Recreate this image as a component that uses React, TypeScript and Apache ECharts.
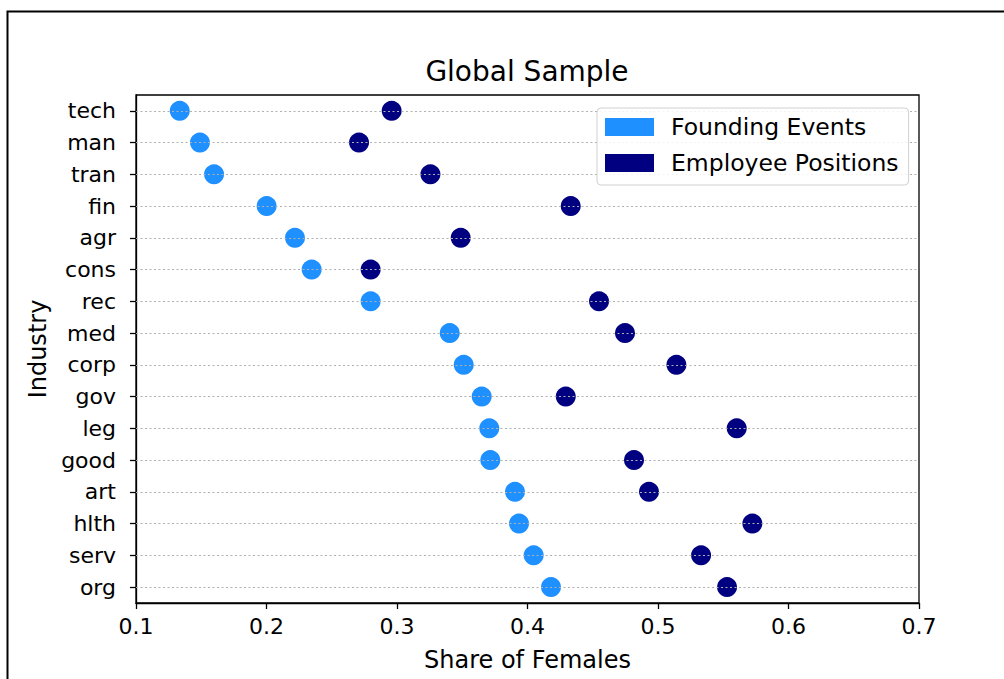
import React, { useEffect, useRef } from "react";
import * as echarts from "echarts";

const categories = ["tech", "man", "tran", "fin", "agr", "cons", "rec", "med", "corp", "gov", "leg", "good", "art", "hlth", "serv", "org"];
const foundingEvents = [0.1335, 0.149, 0.1598, 0.2001, 0.2218, 0.2346, 0.2798, 0.3404, 0.3511, 0.3649, 0.3707, 0.3715, 0.3904, 0.3935, 0.4047, 0.418];
const employeePositions = [0.2959, 0.2709, 0.3256, 0.4331, 0.3488, 0.2798, 0.4548, 0.4747, 0.5141, 0.4293, 0.5603, 0.4816, 0.4931, 0.5723, 0.533, 0.5529];
const xTicks = { min: 0.1, max: 0.7, interval: 0.1 };

const FONT = "'DejaVu Sans', sans-serif";

export default function App() {
  const ref = useRef<HTMLDivElement>(null);
  useEffect(() => {
    if (!ref.current) return;
    const chart = echarts.init(ref.current, null, { renderer: "svg" });
    chart.setOption({
      animation: false,
      backgroundColor: "#fff",
      title: {
        text: "Global Sample",
        left: 522,
        textAlign: "center",
        top: 52,
        textStyle: { fontFamily: FONT, fontSize: 28, fontWeight: "normal", color: "#000" },
      },
      legend: {
        orient: "vertical",
        left: 597,
        top: 108,
        itemWidth: 49,
        itemHeight: 18,
        itemGap: 12,
        padding: [7, 10, 10, 8],
        icon: "rect",
        borderColor: "#d0d0d0",
        borderWidth: 1,
        borderRadius: 4,
        backgroundColor: "rgba(255,255,255,0.85)",
        z: 20,
        textStyle: { fontFamily: FONT, fontSize: 23.5, color: "#000", padding: [0, 0, 0, 12] },
        data: ["Founding Events", "Employee Positions"],
      },
      grid: {
        left: 136,
        top: 95,
        right: 85,
        bottom: 76,
        show: true,
        borderColor: "#000",
        borderWidth: 1.3,
        backgroundColor: "transparent",
      },
      xAxis: {
        type: "value",
        min: xTicks.min,
        max: xTicks.max,
        interval: xTicks.interval,
        name: "Share of Females",
        nameLocation: "middle",
        nameGap: 45,
        nameTextStyle: { fontFamily: FONT, fontSize: 24, color: "#000" },
        axisLine: { show: true, lineStyle: { color: "#000", width: 1.3 } },
        axisTick: { show: true, length: 6, lineStyle: { color: "#000", width: 1.3 } },
        axisLabel: {
          fontFamily: FONT,
          fontSize: 22,
          color: "#000",
          margin: 12,
          formatter: (v: number) => v.toFixed(1),
        },
        splitLine: { show: false },
      },
      yAxis: {
        type: "category",
        data: categories,
        inverse: true,
        boundaryGap: true,
        name: "Industry",
        nameLocation: "middle",
        nameGap: 84,
        nameRotate: 90,
        nameTextStyle: { fontFamily: FONT, fontSize: 24, color: "#000" },
        axisLine: { show: true, lineStyle: { color: "#000", width: 1.3 } },
        axisTick: { show: true, alignWithLabel: true, length: 6, lineStyle: { color: "#000", width: 1.3 } },
        axisLabel: { fontFamily: FONT, fontSize: 22, color: "#000", margin: 20 },
        splitLine: { show: false },
      },
      series: [
        {
          name: "Founding Events",
          type: "scatter",
          symbolSize: 20,
          itemStyle: { color: "#1E90FF", opacity: 1 },
          data: foundingEvents.map((v, i) => [v, categories[i]]),
        },
        {
          name: "Employee Positions",
          type: "scatter",
          symbolSize: 20,
          itemStyle: { color: "#000080", opacity: 1 },
          data: employeePositions.map((v, i) => [v, categories[i]]),
        },
        {
          name: "grid",
          type: "scatter",
          data: [],
          z: 6,
          markLine: {
            silent: true,
            symbol: "none",
            z: 6,
            label: { show: false },
            lineStyle: { color: "#b0b0b0", width: 1.2, type: [2, 2.5], opacity: 1 },
            emphasis: { disabled: true },
            data: categories.map((c) => ({ yAxis: c })),
          },
        },
      ],
      graphic: [
        {
          type: "polyline",
          silent: true,
          shape: { points: [[7.5, 679], [7.5, 11.5], [1004, 11.5]] },
          style: { stroke: "#000", lineWidth: 2, fill: "none" },
        },
      ],
    });
    return () => chart.dispose();
  }, []);
  return (
    <div
      ref={ref}
      style={{ position: "fixed", left: 0, top: 0, width: 1004, height: 679 }}
    />
  );
}
